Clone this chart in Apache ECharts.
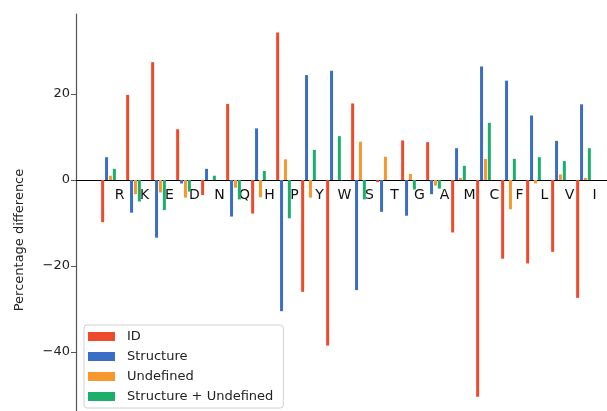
<!DOCTYPE html>
<html>
<head>
<meta charset="utf-8">
<script src="https://cdn.jsdelivr.net/npm/echarts@6/dist/echarts.min.js"></script>
<style>html,body{margin:0;padding:0;background:#fff;}#c{width:607px;height:411px;}</style>
</head>
<body>
<div id="c"></div>
<script>
const categories = ['R','K','E','D','N','Q','H','P','Y','W','S','T','G','A','M','C','F','L','V','I'];
const idValues =        [-9.8, 19.8, 27.4, 11.8, -3.5, 17.7, -7.8, 34.3, -26.0, -38.5, 17.8, -0.5, 9.2, 8.8, -12.2, -50.4, -18.3, -19.4, -16.7, -27.4];
const structureValues = [5.3, -7.6, -13.4, -0.8, 2.6, -8.5, 12.0, -30.5, 24.4, 25.4, -25.6, -7.4, -8.3, -3.3, 7.4, 26.4, 23.1, 15.0, 9.1, 17.6];
const undefinedValues = [1.0, -3.3, -2.9, -4.1, 0.0, -1.8, -4.0, 4.8, -4.1, 0.0, 8.9, 5.4, 1.4, -1.3, 0.5, 4.9, -6.8, -0.8, 1.3, 0.5];
const structUndefValues = [2.6, -5.0, -7.0, -2.7, 1.0, -4.5, 2.1, -8.9, 7.0, 10.2, -4.5, 0.0, -2.2, -2.0, 3.3, 13.3, 4.9, 5.3, 4.4, 7.4];
const yTicks = [-40, -20, 0, 20];
const seriesNames = ['ID', 'Structure', 'Undefined', 'Structure + Undefined'];
const colors = ['#ee4a2c', '#3a6ec6', '#f6982e', '#1cae6b'];

const yMin = -66.5, yMax = 38.6;
const chart = echarts.init(document.getElementById('c'), null, {renderer: 'canvas'});
const font = 'DejaVu Sans';
const allData = [idValues, structureValues, undefinedValues, structUndefValues];
// pixel height of the part of the plot above zero
const plotTop = 14, plotHeight = 452;
const aboveZero = plotHeight * yMax / (yMax - yMin);
chart.setOption({
  animation: false,
  backgroundColor: '#fff',
  color: colors,
  grid: [
    {left: 96, width: 500, top: plotTop, height: plotHeight, containLabel: false, outerBoundsMode: 'none'},
    {left: 76, width: 531, top: plotTop, height: plotHeight, containLabel: false, outerBoundsMode: 'none'},
    {left: 96, width: 500, top: plotTop, height: aboveZero, containLabel: false, outerBoundsMode: 'none'}
  ],
  xAxis: [
    {type: 'category', gridIndex: 0, data: categories, boundaryGap: true,
     axisLine: {show: false}, axisTick: {show: false}, axisLabel: {show: false},
     splitLine: {show: false}},
    {type: 'value', gridIndex: 1, min: 0, max: 1,
     axisLine: {show: true, onZero: true, lineStyle: {color: '#000', width: 1}},
     axisTick: {show: false}, axisLabel: {show: false}, splitLine: {show: false}},
    {type: 'category', gridIndex: 2, data: categories, boundaryGap: true, position: 'bottom',
     axisLine: {show: false}, axisTick: {show: false},
     axisLabel: {margin: 8, interval: 0, color: '#111', fontFamily: font, fontSize: 14,
       formatter: v => '{a|' + v + '}',
       rich: {a: {padding: [0, 0, 0, 22], fontFamily: font, fontSize: 14, color: '#111'}}},
     splitLine: {show: false}}
  ],
  yAxis: [
    {type: 'value', gridIndex: 0, min: yMin, max: yMax, offset: 20,
     name: 'Percentage difference', nameLocation: 'middle', nameGap: 50,
     nameTextStyle: {fontFamily: font, fontSize: 13, color: '#222'},
     axisLine: {show: true, lineStyle: {color: '#555', width: 1.2}},
     axisTick: {show: true, length: 5, lineStyle: {color: '#555'}, customValues: yTicks},
     axisLabel: {fontFamily: font, fontSize: 13, color: '#222', margin: 6, customValues: yTicks,
       formatter: v => (v < 0 ? '\u2212' + Math.abs(v) : String(v))},
     splitLine: {show: false}},
    {type: 'value', gridIndex: 1, min: yMin, max: yMax, show: false},
    {type: 'value', gridIndex: 2, min: 0, max: yMax, show: false}
  ],
  legend: {
    orient: 'vertical', left: 84, top: 325,
    data: seriesNames,
    icon: 'rect', itemWidth: 27, itemHeight: 9, itemGap: 7,
    borderColor: '#d0d0d0', borderWidth: 1, borderRadius: 3,
    padding: [5, 10, 5, 4], backgroundColor: '#fff',
    textStyle: {fontFamily: font, fontSize: 13, color: '#222', padding: [0, 0, 0, 7]}
  },
  series: seriesNames.map((name, i) => ({
    name: name, type: 'bar', xAxisIndex: 0, yAxisIndex: 0,
    data: allData[i], barWidth: 3, barGap: '30%',
    itemStyle: {color: colors[i]}
  }))
});
</script>
</body>
</html>
